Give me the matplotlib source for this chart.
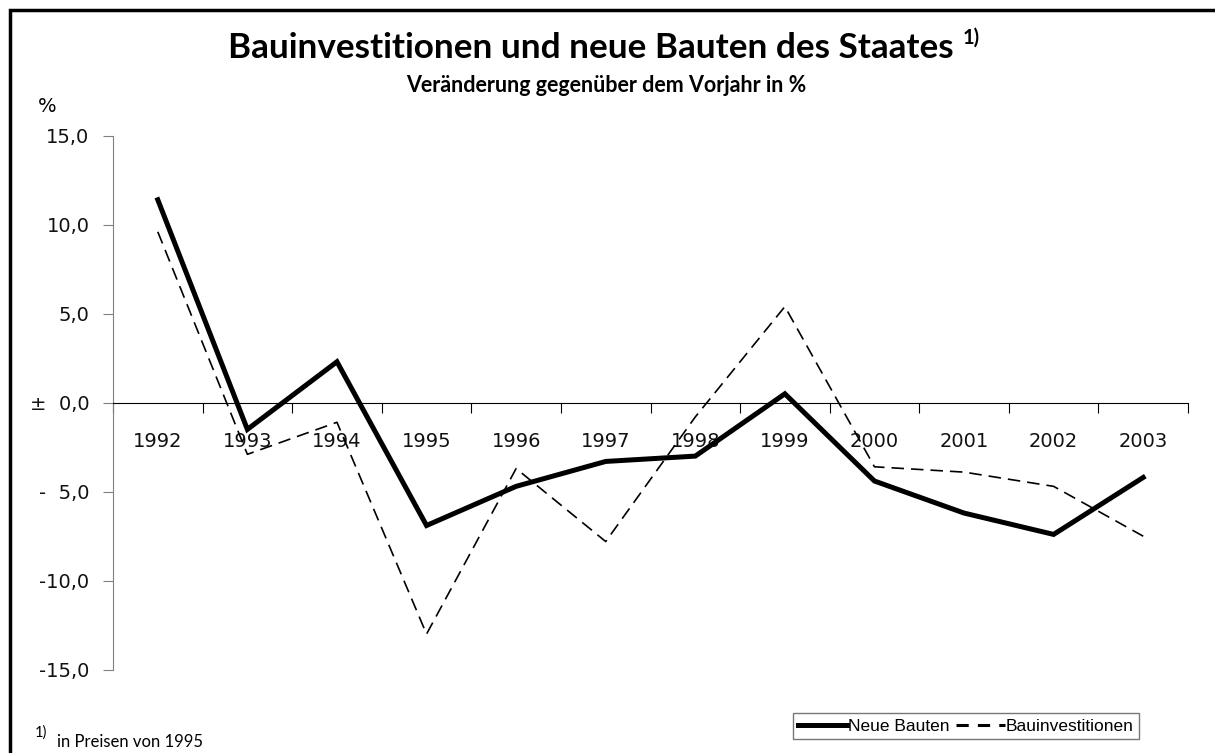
import matplotlib
matplotlib.use("Agg")
import matplotlib.pyplot as plt
from matplotlib.lines import Line2D
from matplotlib.patches import Rectangle

years = ["1992", "1993", "1994", "1995", "1996", "1997",
         "1998", "1999", "2000", "2001", "2002", "2003"]
neue_bauten = [11.4, -1.5, 2.3, -6.9, -4.7, -3.3, -3.0, 0.5, -4.4, -6.2, -7.4, -4.2]
bauinvest = [9.6, -2.9, -1.1, -13.0, -3.7, -7.8, -0.8, 5.4, -3.6, -3.9, -4.7, -7.5]
y_ticks = [15, 10, 5, 0, -5, -10, -15]
y_labels = ["15,0", "10,0", "5,0", "±  0,0", "-  5,0", "-10,0", "-15,0"]

headfont = "Lato"
tickfont = "DejaVu Sans"

W, H = 1215, 753
fig = plt.figure(figsize=(W / 100, H / 100), dpi=100)
ax = fig.add_axes([113 / W, 1 - 669.7 / H, (1188 - 113) / W, (669.7 - 135.7) / H])

x = [i + 0.5 for i in range(len(years))]
ax.plot(x, neue_bauten, color="black", lw=3.6, solid_joinstyle="miter")
ax.plot(x, bauinvest, color="black", lw=1.2, dashes=(7.5, 4.2))

ax.set_xlim(0, len(years))
ax.set_ylim(-15, 15)

for s in ["top", "right"]:
    ax.spines[s].set_visible(False)
ax.spines["left"].set_color("#808080")
ax.spines["bottom"].set_position(("data", 0))
ax.spines["bottom"].set_color("black")

# category boundaries as major ticks, year labels on the centres
ax.set_xticks(range(len(years) + 1))
ax.set_xticklabels([])
ax.set_xticks(x, minor=True)
ax.set_xticklabels(years, minor=True, fontsize=14, family=tickfont, color="#111111")
ax.tick_params(axis="x", which="major", length=7, direction="out", color="black")
ax.tick_params(axis="x", which="minor", length=0, pad=21)

ax.set_yticks(y_ticks)
ax.set_yticklabels(y_labels, fontsize=14, family=tickfont, color="#111111")
ax.tick_params(axis="y", length=7, color="#808080", pad=10)

fig.text(47 / W, 1 - 106 / H, "%", fontsize=14, family=tickfont, ha="center", va="center")

fig.text(228 / W, 1 - 58 / H, "Bauinvestitionen und neue Bauten des Staates",
         fontsize=25.3, family=headfont, weight="bold", ha="left", va="baseline")
fig.text(963 / W, 1 - 44 / H, "1)",
         fontsize=14.5, family=headfont, weight="bold", ha="left", va="baseline")
fig.text(606 / W, 1 - 92 / H, "Veränderung gegenüber dem Vorjahr in %",
         fontsize=15.5, family=headfont, weight="bold", ha="center", va="baseline")

fig.text(35 / W, 1 - 737 / H, "1)", fontsize=10.5, family=headfont, ha="left", va="baseline")
fig.text(57 / W, 1 - 747 / H, "in Preisen von 1995",
         fontsize=12, family=headfont, ha="left", va="baseline")

handles = [Line2D([], [], color="black", lw=3.6),
           Line2D([], [], color="black", lw=2.2, dashes=(4, 3))]
leg = fig.legend(handles, ["Neue Bauten", "Bauinvestitionen"], ncol=2,
                 loc="center", bbox_to_anchor=(966 / W, 1 - 726 / H),
                 prop={"family": "Liberation Sans", "size": 12.5},
                 frameon=True, fancybox=False, edgecolor="#555555",
                 handlelength=2.8, handletextpad=0.05, columnspacing=0.4,
                 borderpad=0.3, borderaxespad=0)
leg.get_frame().set_linewidth(1.0)

fig.patches.append(Rectangle((10 / W, -0.1), 1.2, 1 - 10 / H + 0.1,
                             transform=fig.transFigure, fill=False,
                             edgecolor="black", lw=2.5))

fig.savefig("out.png", dpi=100)
